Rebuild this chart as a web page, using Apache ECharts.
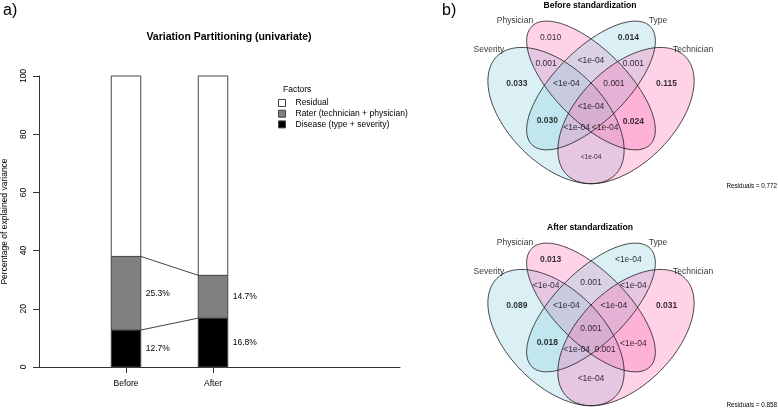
<!DOCTYPE html>
<html><head><meta charset="utf-8">
<script src="https://cdn.jsdelivr.net/npm/echarts@6/dist/echarts.min.js"></script>
<style>html,body{margin:0;padding:0;background:#fff}#c{width:778px;height:410px}</style>
</head><body><div id="c"></div>
<script>
// ---------------- data ----------------
const stages = ['Before', 'After'];
const diseaseShare = [12.7, 16.8];
const raterShare = [25.3, 14.7];
const residualShare = [62.0, 68.5];
const yTicks = [0, 20, 40, 60, 80, 100];
const factorNames = ['Residual', 'Rater (technician + physician)', 'Disease (type + severity)'];

const vennSets = ['Severity', 'Physician', 'Type', 'Technician'];
const vennTitles = ['Before standardization', 'After standardization'];
// regions: P, P∩T, T, S∩P, S∩P∩T, all, P∩T∩Te, T∩Te, S, S∩T, S∩T∩Te, S∩P∩Te, P∩Te, Te, S∩Te
const beforeRegions = ['0.010', '<1e-04', '0.014', '0.001', '<1e-04', '<1e-04', '0.001', '0.001', '0.033', '0.030', '<1e-04', '<1e-04', '0.024', '0.115', '<1e-04'];
const afterRegions = ['0.013', '0.001', '<1e-04', '<1e-04', '<1e-04', '0.001', '<1e-04', '<1e-04', '0.089', '0.018', '<1e-04', '0.001', '<1e-04', '0.031', '<1e-04'];
const residualValues = ['0.772', '0.858'];

// ---------------- layout ----------------
const FONT = '"Liberation Sans", Arial, Helvetica, sans-serif';
const VX0 = 471.5, VS = 239;
const vennY0 = [221.7, 443.7];
const vennYMin = 0.15, vennYMax = 0.9;
const regionPos = [[0.331,0.771],[0.5,0.674],[0.656,0.771],[0.312,0.66],[0.397,0.577],[0.5,0.481],[0.596,0.577],[0.677,0.66],[0.19,0.577],[0.317,0.423],[0.44,0.395],[0.559,0.395],[0.677,0.418],[0.816,0.577],[0.5,0.272]];
const setLabelPos = [[0.073,0.718],[0.182,0.841],[0.780,0.841],[0.927,0.718]];
const ellipseGeom = [ // cx, cy, a, b, rotation, colour index
  [0.3536, 0.444, 0.35, 0.20, 135, 0],
  [0.5, 0.57, 0.35, 0.15, 135, 1],
  [0.5, 0.57, 0.35, 0.15, 45, 0],
  [0.6464, 0.444, 0.35, 0.20, 45, 1]
];
const fills = ['rgba(140,207,224,0.32)', 'rgba(255,105,180,0.30)'];
const BAR_W = 29.5;
const barHalf = (BAR_W / 2) / 87;

function ellipseRender(stroke) {
  return function (params, api) {
    const cx = api.value(0), cy = api.value(1), a = api.value(2), b = api.value(3);
    const r = api.value(4) * Math.PI / 180, ci = api.value(5);
    const pts = [];
    for (let i = 0; i < 160; i++) {
      const t = i / 160 * 2 * Math.PI;
      const x = cx + a * Math.cos(t) * Math.cos(r) - b * Math.sin(t) * Math.sin(r);
      const y = cy + a * Math.cos(t) * Math.sin(r) + b * Math.sin(t) * Math.cos(r);
      pts.push(api.coord([x, y]));
    }
    return {
      type: 'polygon', shape: { points: pts },
      style: stroke ? { fill: 'none', stroke: '#1a1a1a', lineWidth: 0.8 } : { fill: fills[ci], stroke: 'none' }
    };
  };
}

function barRender(fill, withLabel) {
  return function (params, api) {
    const x = api.value(0), s = api.value(1), e = api.value(2);
    const p0 = api.coord([x, s]), p1 = api.coord([x, e]);
    const children = [{
      type: 'rect',
      shape: { x: p0[0] - BAR_W / 2, y: p1[1], width: BAR_W, height: p0[1] - p1[1] },
      style: { fill: fill, stroke: '#444', lineWidth: 1 }
    }];
    if (withLabel) {
      children.push({
        type: 'text', x: p0[0] + BAR_W / 2 + 5, y: (p0[1] + p1[1]) / 2,
        style: { text: (e - s).toFixed(1) + '%', fontSize: 8.5, fontFamily: FONT, fill: '#000', align: 'left', verticalAlign: 'middle' }
      });
    }
    return { type: 'group', children: children };
  };
}

const grids = [{ left: 39, top: 76, width: 361, height: 291, outerBoundsMode: 'none' }];
const xAxes = [{
  type: 'value', gridIndex: 0, min: 0, max: 361 / 87,
  axisLine: { show: true, lineStyle: { color: '#333', width: 1 } },
  axisTick: { show: true, customValues: [1, 2], length: 6, lineStyle: { color: '#333' } },
  axisLabel: { customValues: [1, 2], formatter: v => stages[Math.round(v) - 1] || '', margin: 12, fontSize: 8.5, color: '#000', fontFamily: FONT },
  splitLine: { show: false }
}];
const yAxes = [{
  type: 'value', gridIndex: 0, min: 0, max: 100, interval: 20,
  name: 'Percentage of explained variance', nameLocation: 'middle', nameGap: 30, nameRotate: 90,
  nameTextStyle: { fontSize: 8.5, color: '#000', fontFamily: FONT },
  axisLine: { show: true, lineStyle: { color: '#333', width: 1 } },
  axisTick: { show: true, length: 6, lineStyle: { color: '#333' }, customValues: yTicks },
  axisLabel: { rotate: 90, margin: 11, fontSize: 8.5, color: '#000', fontFamily: FONT, customValues: yTicks },
  splitLine: { show: false }
}];

const series = [];
const layers = [
  { name: factorNames[2], vals: diseaseShare, color: '#000000', label: true },
  { name: factorNames[1], vals: raterShare, color: '#808080', label: true },
  { name: factorNames[0], vals: residualShare, color: '#ffffff', label: false }
];
const base = stages.map(() => 0);
layers.forEach(L => {
  const data = L.vals.map((v, i) => { const d = [i + 1, base[i], base[i] + v]; base[i] += v; return d; });
  series.push({
    type: 'custom', name: L.name, xAxisIndex: 0, yAxisIndex: 0, silent: true,
    itemStyle: { color: L.color, borderColor: '#444', borderWidth: 1 },
    encode: { x: 0, y: [1, 2] },
    renderItem: barRender(L.color, L.label), data: data
  });
});
const topB = diseaseShare[0] + raterShare[0], topA = diseaseShare[1] + raterShare[1];
series.push({ type: 'line', symbol: 'none', silent: true, data: [[1 + barHalf, topB], [2 - barHalf, topA]], lineStyle: { color: '#111', width: 0.8 } });
series.push({ type: 'line', symbol: 'none', silent: true, data: [[1 + barHalf, diseaseShare[0]], [2 - barHalf, diseaseShare[1]]], lineStyle: { color: '#111', width: 0.8 } });

const graphics = [
  { type: 'text', x: 3, y: 11, style: { text: 'a)', fontSize: 16, fontFamily: FONT, fill: '#000', align: 'left', verticalAlign: 'middle' } },
  { type: 'text', x: 442, y: 11, style: { text: 'b)', fontSize: 16, fontFamily: FONT, fill: '#000', align: 'left', verticalAlign: 'middle' } },
  { type: 'text', x: 229, y: 37, style: { text: 'Variation Partitioning (univariate)', fontSize: 10.5, fontWeight: 'bold', fontFamily: FONT, fill: '#000', align: 'center', verticalAlign: 'middle' } },
  { type: 'text', x: 283, y: 90, style: { text: 'Factors', fontSize: 8.5, fontFamily: FONT, fill: '#000', align: 'left', verticalAlign: 'middle' } }
];

[beforeRegions, afterRegions].forEach((regions, k) => {
  const gi = k + 1;
  const y0 = vennY0[k];
  grids.push({ left: VX0, width: VS, top: y0 - vennYMax * VS, height: (vennYMax - vennYMin) * VS, outerBoundsMode: 'none' });
  xAxes.push({ type: 'value', gridIndex: gi, min: 0, max: 1, show: false });
  yAxes.push({ type: 'value', gridIndex: gi, min: vennYMin, max: vennYMax, show: false });
  series.push({ type: 'custom', xAxisIndex: gi, yAxisIndex: gi, clip: false, silent: true, renderItem: ellipseRender(false), data: ellipseGeom });
  series.push({ type: 'custom', xAxisIndex: gi, yAxisIndex: gi, clip: false, silent: true, renderItem: ellipseRender(true), data: ellipseGeom });
  series.push({
    type: 'scatter', xAxisIndex: gi, yAxisIndex: gi, silent: true, symbolSize: 1, itemStyle: { color: 'rgba(0,0,0,0)' },
    data: regions.map((txt, i) => {
      const num = parseFloat(txt);
      const bold = txt[0] !== '<' && num > 0.01;
      const small = (k === 0 && i === 14);
      return { value: regionPos[i], label: { show: true, position: 'inside', formatter: txt, fontSize: small ? 6.6 : 8.5, fontWeight: bold ? 'bold' : 'normal', color: '#000', fontFamily: FONT } };
    })
  });
  series.push({
    type: 'scatter', xAxisIndex: gi, yAxisIndex: gi, silent: true, symbolSize: 1, itemStyle: { color: 'rgba(0,0,0,0)' },
    data: vennSets.map((s, i) => ({ value: setLabelPos[i], label: { show: true, position: 'inside', formatter: s, fontSize: 8.5, color: '#000', fontFamily: FONT } }))
  });
  graphics.push({ type: 'text', x: 590, y: y0 - 0.9025 * VS, style: { text: vennTitles[k], fontSize: 8.6, fontWeight: 'bold', fontFamily: FONT, fill: '#000', align: 'center', verticalAlign: 'middle' } });
  graphics.push({ type: 'text', x: 777, y: k === 0 ? 186 : 405, style: { text: 'Residuals = ' + residualValues[k], fontSize: 6.3, fontFamily: FONT, fill: '#000', align: 'right', verticalAlign: 'middle' } });
});

const chart = echarts.init(document.getElementById('c'), null, { renderer: 'canvas' });
chart.setOption({
  animation: false,
  backgroundColor: '#fff',
  textStyle: { fontFamily: FONT },
  grid: grids, xAxis: xAxes, yAxis: yAxes,
  legend: {
    data: factorNames, orient: 'vertical', left: 278, top: 98, itemWidth: 7, itemHeight: 7, itemGap: 0.7,
    icon: 'rect', selectedMode: false, padding: 0,
    itemStyle: { borderColor: '#444', borderWidth: 1 },
    textStyle: { fontSize: 8.5, color: '#000', fontFamily: FONT, lineHeight: 10, padding: [0, 0, 0, 5] }
  },
  graphic: graphics,
  series: series
});
</script></body></html>
